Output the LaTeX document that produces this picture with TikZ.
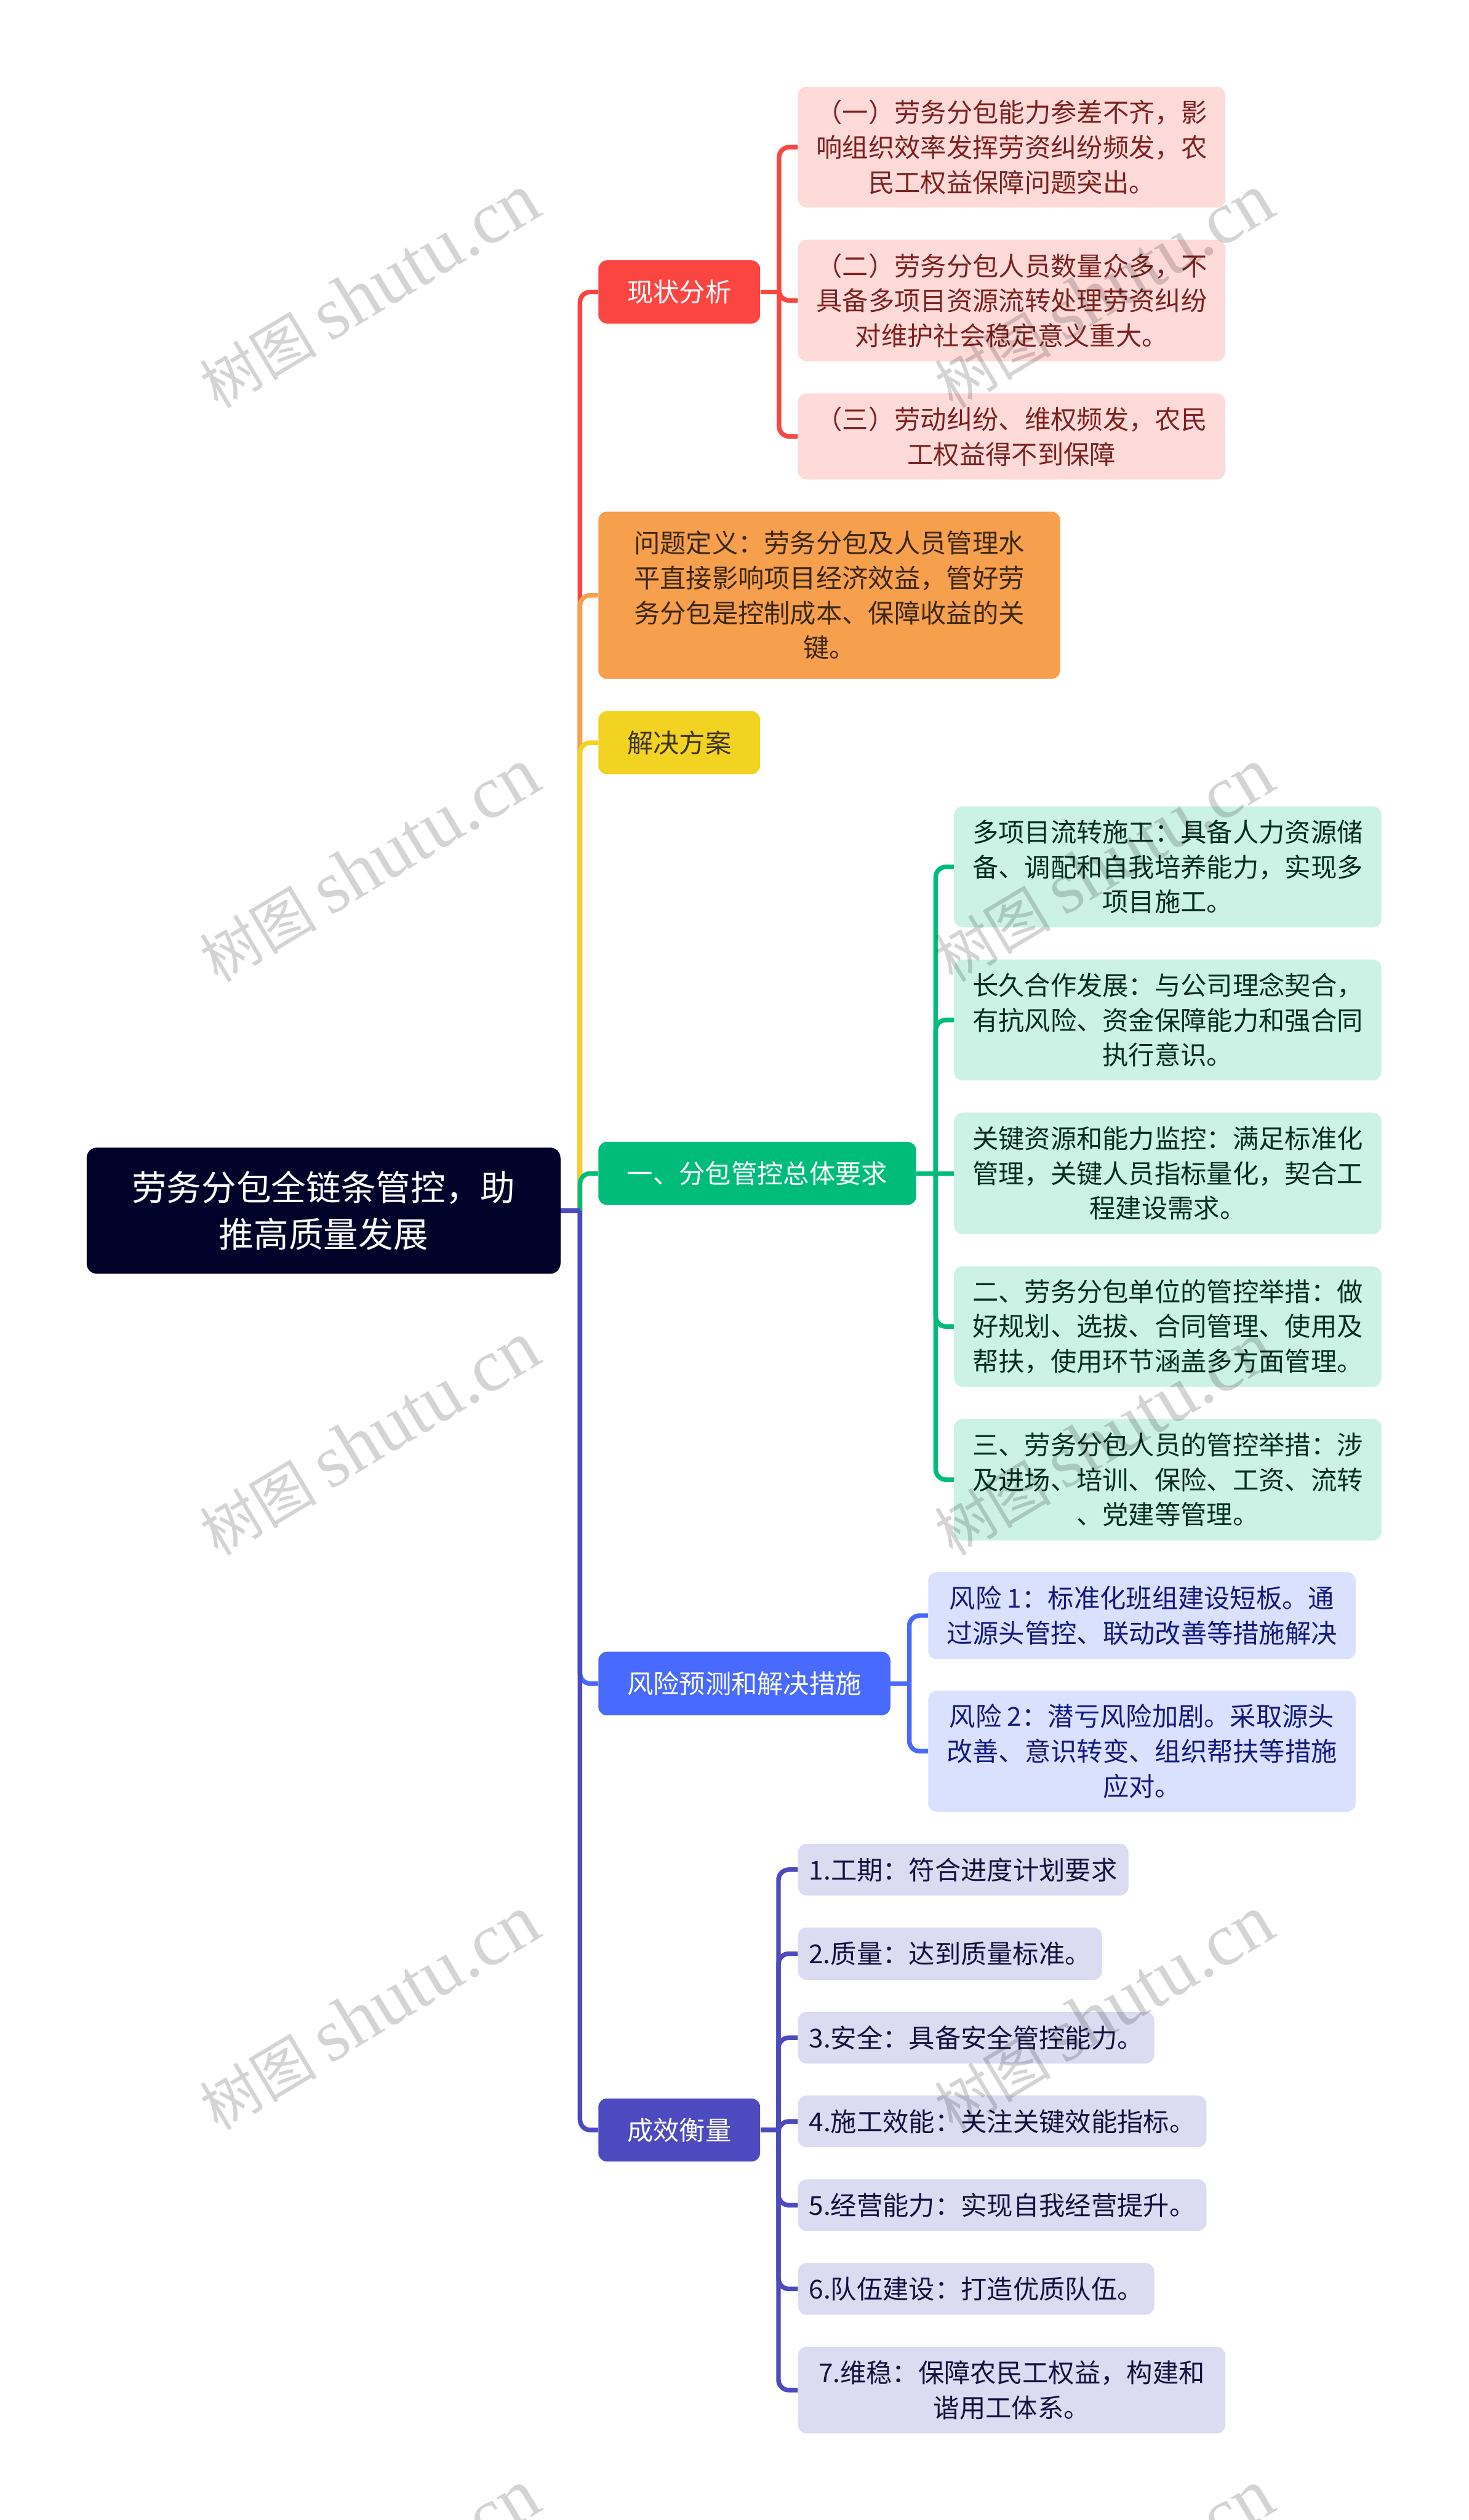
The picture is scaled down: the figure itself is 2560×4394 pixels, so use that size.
\documentclass[tikz,border=0pt]{standalone}
\usepackage{fontspec}
\setmainfont{Noto Sans CJK SC}
\newfontfamily\wmlatin{Liberation Serif}
\definecolor{cRoot}{HTML}{000229}
\definecolor{cRed}{HTML}{FA4540}
\definecolor{cOrange}{HTML}{F6A04D}
\definecolor{cYellow}{HTML}{F3D321}
\definecolor{cGreen}{HTML}{00BC7B}
\definecolor{cBlue}{HTML}{486AFF}
\definecolor{cPurple}{HTML}{4D49BE}
\definecolor{lRed}{HTML}{FEDAD9}
\definecolor{lGreen}{HTML}{CCF2E5}
\definecolor{lBlue}{HTML}{DAE1FF}
\definecolor{lPurple}{HTML}{DBDBF2}
\definecolor{tRed}{HTML}{7D2220}
\definecolor{tOrange}{HTML}{3D2813}
\definecolor{tYellow}{HTML}{3D3508}
\definecolor{tGreen}{HTML}{002F1F}
\definecolor{tBlue}{HTML}{121A80}
\definecolor{tPurple}{HTML}{13123F}
\tikzset{
  boxbase/.style={rounded corners=7.5pt,inner sep=0pt,align=center,draw=none,
    font=\fontsize{22.7}{30.35}\selectfont},
  rootbox/.style={boxbase,fill=cRoot,text=white,rounded corners=9pt,
    font=\fontsize{30.4}{41}\selectfont},
  redbox/.style={boxbase,fill=cRed,text=white},
  orangebox/.style={boxbase,fill=cOrange,text=tOrange},
  yellowbox/.style={boxbase,fill=cYellow,text=tYellow},
  greenbox/.style={boxbase,fill=cGreen,text=white},
  bluebox/.style={boxbase,fill=cBlue,text=white},
  purplebox/.style={boxbase,fill=cPurple,text=white},
  redleaf/.style={boxbase,fill=lRed,text=tRed},
  greenleaf/.style={boxbase,fill=lGreen,text=tGreen},
  blueleaf/.style={boxbase,fill=lBlue,text=tBlue},
  purpleleaf/.style={boxbase,fill=lPurple,text=tPurple},
  link/.style={line width=4pt,rounded corners=9pt,draw=#1},
  watermark/.style={rotate=31,text=black,text opacity=0.17,inner sep=0pt,
    font=\fontsize{51}{60}\selectfont}
}
\newcommand{\bx}[7]{\node[#6,minimum width=(#4-#2)*0.5pt,minimum height=(#5-#3)*0.5pt] (#1) at ({(#2+#4)/2},{(#3+#5)/2}) {#7};}
\newcommand{\wmtext}{树图 {\wmlatin\fontsize{65}{60}\selectfont shutu.cn}}
\begin{document}
\begin{tikzpicture}[x=0.5pt,y=-0.5pt]
\fill[white] (0,0) rectangle (2560,4394);
\useasboundingbox (0,0) rectangle (2560,4394);
% nodes
\bx{root}{151}{2001}{977}{2221}{rootbox}{劳务分包全链条管控，助\\推高质量发展}
\bx{n1}{1043}{454}{1325}{564}{redbox}{现状分析}
\bx{n2}{1043}{892}{1848}{1184}{orangebox}{问题定义：劳务分包及人员管理水\\平直接影响项目经济效益，管好劳\\务分包是控制成本、保障收益的关\\键。}
\bx{n3}{1043}{1240}{1325}{1350}{yellowbox}{解决方案}
\bx{n4}{1043}{1991}{1597}{2101}{greenbox}{一、分包管控总体要求}
\bx{n5}{1043}{2880}{1552}{2991}{bluebox}{风险预测和解决措施}
\bx{n6}{1043}{3659}{1325}{3769}{purplebox}{成效衡量}
\bx{p1}{1391}{151}{2136}{362}{redleaf}{（一）劳务分包能力参差不齐，影\\响组织效率发挥劳资纠纷频发，农\\民工权益保障问题突出。}
\bx{p2}{1391}{418}{2136}{630}{redleaf}{（二）劳务分包人员数量众多，不\\具备多项目资源流转处理劳资纠纷\\对维护社会稳定意义重大。}
\bx{p3}{1391}{686}{2136}{836}{redleaf}{（三）劳动纠纷、维权频发，农民\\工权益得不到保障}
\bx{g1}{1663}{1406}{2408}{1617}{greenleaf}{多项目流转施工：具备人力资源储\\备、调配和自我培养能力，实现多\\项目施工。}
\bx{g2}{1663}{1673}{2408}{1884}{greenleaf}{长久合作发展：与公司理念契合，\\有抗风险、资金保障能力和强合同\\执行意识。}
\bx{g3}{1663}{1940}{2408}{2152}{greenleaf}{关键资源和能力监控：满足标准化\\管理，关键人员指标量化，契合工\\程建设需求。}
\bx{g4}{1663}{2208}{2408}{2418}{greenleaf}{二、劳务分包单位的管控举措：做\\好规划、选拔、合同管理、使用及\\帮扶，使用环节涵盖多方面管理。}
\bx{g5}{1663}{2474}{2408}{2686}{greenleaf}{三、劳务分包人员的管控举措：涉\\及进场、培训、保险、工资、流转\\、党建等管理。}
\bx{b1}{1618}{2741}{2363}{2893}{blueleaf}{风险 1：标准化班组建设短板。通\\过源头管控、联动改善等措施解决}
\bx{b2}{1618}{2948}{2363}{3159}{blueleaf}{风险 2：潜亏风险加剧。采取源头\\改善、意识转变、组织帮扶等措施\\应对。}
\bx{m1}{1391}{3215}{1967}{3305}{purpleleaf}{1.工期：符合进度计划要求}
\bx{m2}{1391}{3361}{1921}{3452}{purpleleaf}{2.质量：达到质量标准。}
\bx{m3}{1391}{3508}{2012}{3598}{purpleleaf}{3.安全：具备安全管控能力。}
\bx{m4}{1391}{3654}{2103}{3744}{purpleleaf}{4.施工效能：关注关键效能指标。}
\bx{m5}{1391}{3800}{2103}{3890}{purpleleaf}{5.经营能力：实现自我经营提升。}
\bx{m6}{1391}{3946}{2012}{4036}{purpleleaf}{6.队伍建设：打造优质队伍。}
\bx{m7}{1391}{4092}{2136}{4243}{purpleleaf}{7.维稳：保障农民工权益，构建和\\谐用工体系。}
% junction coordinates
\coordinate (trunk) at (1011,2111);
\coordinate (bR) at (1358,509);
\coordinate (bG) at (1631,2046);
\coordinate (bB) at (1585,2935.5);
\coordinate (bM) at (1357,3714);
% main trunk, drawn so the later branches lie on top
\foreach \c/\k in {n1/cRed,n2/cOrange,n3/cYellow,n4/cGreen,n5/cBlue,n6/cPurple}
  \draw[link=\k] (trunk) -- (trunk |- \c.west) -- (\c.west);
\draw[link=cPurple] (root.east) -- (trunk);
% red group
\draw[link=cRed] (n1.east) -- (bR);
\foreach \c in {p1,p2,p3}
  \draw[link=cRed] (bR) -- (bR |- \c.west) -- (\c.west);
% green group
\draw[link=cGreen] (n4.east) -- (bG);
\foreach \c in {g1,g2,g4,g5}
  \draw[link=cGreen] (bG) -- (bG |- \c.west) -- (\c.west);
\draw[link=cGreen] (bG) -- (g3.west);
% blue group
\draw[link=cBlue] (n5.east) -- (bB);
\foreach \c in {b1,b2}
  \draw[link=cBlue] (bB) -- (bB |- \c.west) -- (\c.west);
% purple group
\draw[link=cPurple] (n6.east) -- (bM);
\foreach \c in {m1,m2,m3,m4,m5,m6,m7}
  \draw[link=cPurple] (bM) -- (bM |- \c.west) -- (\c.west);
% watermarks
\begin{scope}
\clip (0,0) rectangle (2560,4394);
\foreach \r/\yy in {1/508,2/1509,3/2509,4/3510,5/4511}{
  \node[watermark] (wl\r) at (644,\yy) {\wmtext};
  \node[watermark] (wr\r) at (1924,\yy) {\wmtext};
}
\end{scope}
\end{tikzpicture}
\end{document}
